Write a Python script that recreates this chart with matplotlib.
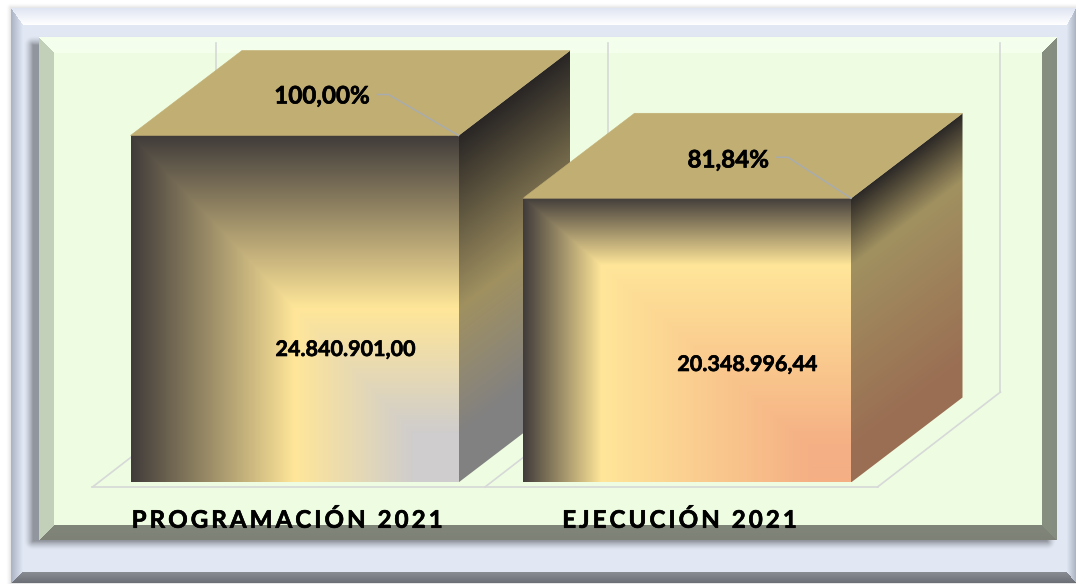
import numpy as np
import matplotlib
matplotlib.use("Agg")
import matplotlib.pyplot as plt
import matplotlib.patheffects as pe
from matplotlib.patches import Polygon

categories = ["PROGRAMACIÓN 2021", "EJECUCIÓN 2021"]
values = [24840901.00, 20348996.44]
value_labels = ["24.840.901,00", "20.348.996,44"]
percent_labels = ["100,00%", "81,84%"]

W, H = 1076, 584
FONT = ["Lato", "DejaVu Sans"]

# ---------- layout scales (pixels <-> data) ----------
BASE_PX = 482.5
PX_PER_VALUE = 347.0 / values[0]
CAT0_PX, CAT_STEP_PX = 294.5, 392.5
BAR_W = 328.0 / CAT_STEP_PX
DX, DY = 111.5, 85.0            # depth of the 3-D box in pixels
ux = 1.0 / CAT_STEP_PX
uy = 1.0 / PX_PER_VALUE
def X(px): return (px - CAT0_PX) * ux
def Y(py): return (BASE_PX - py) * uy


def rgb(h):
    h = h.lstrip("#")
    return np.array([int(h[i:i + 2], 16) for i in (0, 2, 4)], float) / 255


# ---------- frame, drawn as one picture ----------
def bevel_panel(img, x0, y0, x1, y1, widths, face, side_cols):
    yy, xx = np.mgrid[0:H, 0:W] + 0.5
    inside = (xx >= x0) & (xx < x1) & (yy >= y0) & (yy < y1)
    img[inside] = rgb(face)
    l, t, r, b = widths
    dl, dt, dr, db = (xx - x0) / l, (yy - y0) / t, (x1 - xx) / r, (y1 - yy) / b
    stack = np.stack([dl, dt, dr, db])
    which = stack.argmin(0)
    dmin = stack.min(0)
    for k in range(4):
        m = inside & (which == k) & (dmin < 1)
        c0, c1 = rgb(side_cols[k][0]), rgb(side_cols[k][1])
        f = dmin[m][:, None]
        img[m] = c0 * (1 - f) + c1 * f


def shadow(img, x0, y0, x1, y1, blur, strength, color="#50525a"):
    yy, xx = np.mgrid[0:H, 0:W] + 0.5
    ox = np.maximum(np.maximum(x0 - xx, xx - x1), 0)
    oy = np.maximum(np.maximum(y0 - yy, yy - y1), 0)
    d = np.hypot(ox, oy)
    a = np.clip(1 - d / blur, 0, 1) ** 1.5 * strength
    img[:] = img * (1 - a[..., None]) + rgb(color) * a[..., None]


frame = np.ones((H, W, 3))
shadow(frame, 11, 8, W, 583, 5, 0.22, "#808080")
bevel_panel(frame, 11, 8, W, 583, (12, 17, 9, 11), "#e1e8f3",
            [("#a9b2c1", "#e0e8f6"), ("#dfe5f2", "#ffffff"),
             ("#aab3c2", "#dfe6f2"), ("#6c6e75", "#8b8d94")])
shadow(frame, 33, 45, 1047, 541, 9, 0.55)
bevel_panel(frame, 39, 37, 1057, 540, (15, 16, 15, 15), "#eefce2",
            [("#c2cfb9", "#c4d1ba"), ("#f4ffec", "#f4ffec"),
             ("#848d80", "#87907f"), ("#7e8276", "#80857a")])

fig = plt.figure(figsize=(W / 100, H / 100), dpi=100)
bg = fig.add_axes([0, 0, 1, 1])
bg.imshow(frame, extent=(0, W, H, 0), aspect="auto", interpolation="nearest")
bg.set_xlim(0, W)
bg.set_ylim(H, 0)
bg.axis("off")

# ---------- chart axes: x in categories, y in value units ----------
ax = fig.add_axes([0, 0, 1, 1], facecolor="none")
ax.axis("off")
ax.set_autoscale_on(False)
ax.set_xlim(X(0), X(W))
ax.set_ylim(Y(H), Y(0))

GRID = "#d6d9d8"
# walls and floor of the 3-D plot
for i in range(3):
    wall_x = 215.5 + i * CAT_STEP_PX
    ax.plot([X(wall_x), X(wall_x)], [Y(43), Y(392)], color=GRID, lw=1.2, zorder=1)
    ax.plot([X(wall_x - 123), X(wall_x)], [Y(487), Y(392)], color=GRID, lw=1.2, zorder=1)
ax.plot([X(92), X(878)], [Y(487), Y(487)], color=GRID, lw=1.2, zorder=1)

TOP_COL = "#c1ae73"
DARK = "#403b3a"
YELL = "#ffe699"
SIDE = 0.63
stops = [
    ([0.0, 0.14, 0.50, 1.0], ["#cfcdcd", "#cfcdcd", YELL, DARK]),
    ([0.0, 0.12, 0.76, 1.0], ["#f5af84", "#f5af84", YELL, DARK]),
]
heavy = [pe.withStroke(linewidth=0.45, foreground="#000000")]


def ramp(t, pos, cols):
    carr = np.array([rgb(c) for c in cols])
    return np.stack([np.interp(t, pos, carr[:, k]) for k in range(3)], axis=-1)


for i, v in enumerate(values):
    z = 3 + i * 3
    x0, x1 = i - BAR_W / 2, i + BAR_W / 2
    dx, dy = DX * ux, DY * uy
    pos, cols = stops[i]

    # front face: rectangular gradient focused on the lower-right corner
    fw, fh = 328, int(round(v * PX_PER_VALUE))
    px = (np.arange(fw) + 0.5) / fw
    py = (np.arange(fh) + 0.5) / fh
    xx, yy = np.meshgrid(1 - px, 1 - py)
    front = ramp(np.maximum(xx, yy), pos, cols)
    ax.imshow(front, extent=(x0, x1, 0, v), origin="upper", aspect="auto",
              interpolation="bilinear", zorder=z + 1)

    # side face: same ramp, darkened, sheared along the depth direction
    sw, sh = int(DX), fh + int(DY)
    u = (np.arange(sw) + 0.5) / sw
    rows = np.arange(sh) + 0.5
    uu, rr = np.meshgrid(u, rows)
    vv = np.clip((rr - DY + uu * DY) / fh, 0, 1)
    side = ramp(1 - vv, pos, cols) * SIDE
    im = ax.imshow(side, extent=(x1, x1 + dx, 0, v + dy), origin="upper",
                   aspect="auto", interpolation="bilinear", zorder=z)
    clip = Polygon([(x1, 0), (x1 + dx, dy), (x1 + dx, v + dy), (x1, v)],
                   closed=True, transform=ax.transData, fc="none", ec="none")
    ax.add_patch(clip)
    im.set_clip_path(clip)

    # top face
    ax.add_patch(Polygon([(x0, v), (x1, v), (x1 + dx, v + dy), (x0 + dx, v + dy)],
                         closed=True, fc=TOP_COL, ec=TOP_COL, lw=0.4, zorder=z + 1))

    # leader from the percent label to the box corner
    elbow = (-70, -63)[i]
    ax.plot([x1 + (elbow - 11) * ux, x1 + elbow * ux, x1],
            [v + 41 * uy, v + 41 * uy, v], color="#a9acae", lw=1.1,
            solid_joinstyle="round", zorder=z + 2)

    # labels
    ax.text(x1 + ((369 - 458) if i == 0 else (769 - 851)) * ux, Y((96, 160)[i]),
            percent_labels[i], ha="right", va="center", family=FONT,
            fontsize=17.4, fontweight="bold", color="#000000", zorder=z + 3,
            path_effects=heavy)
    ax.text(i + (50.5, 60)[i] * ux, Y((349.5, 364.5)[i]),
            value_labels[i], ha="center", va="center", family=FONT,
            fontsize=15.5, fontweight="bold", color="#000000", zorder=z + 3,
            path_effects=heavy)
    ax.text(i - 7.5 * ux, Y(520), "\u2009".join(categories[i]),
            ha="center", va="center", family=FONT, fontsize=17.4,
            fontweight="bold", color="#000000", zorder=20, path_effects=heavy)

fig.savefig("out.png", dpi=100)
